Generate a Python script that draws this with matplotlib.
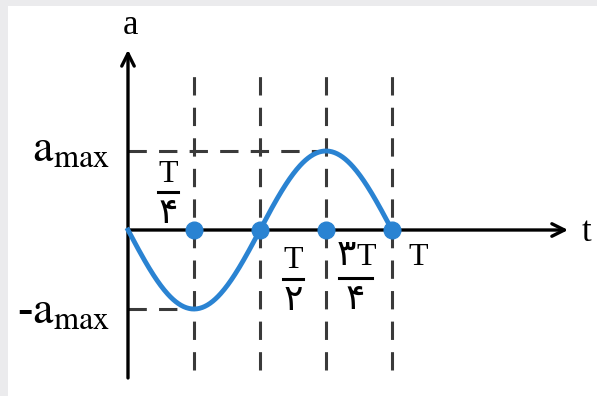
import numpy as np
import matplotlib.pyplot as plt

plt.rcParams['font.family'] = ['Liberation Serif', 'DejaVu Sans']
plt.rcParams['mathtext.fontset'] = 'stix'

# time in units of the period T, acceleration in units of a_max
amax = 1.0
quarter_t = [0.25, 0.5, 0.75, 1.0]
peak_t = [0.25, 0.75]
peak_a = [-amax, amax]
blue = '#2a83d2'
dash = '#3a3a3a'

t = np.linspace(0, 1, 300)
a = -amax * np.sin(2 * np.pi * t)

fig = plt.figure(figsize=(5.97, 3.96), dpi=100, facecolor='#ebebed')
ax = fig.add_axes([8 / 597, 0, 589 / 597, 390 / 396])
ax.set_facecolor('white')
ax.set_xlim(-0.4545, 1.7765)
ax.set_ylim(-2.101, 2.835)
ax.set_xticks([])
ax.set_yticks([])
for s in ax.spines.values():
    s.set_visible(False)

# guide lines
for tq in quarter_t:
    ax.plot([tq, tq], [-1.77, 2.03], color=dash, lw=2.2, dashes=(6, 4), zorder=1)
ax.plot([0, peak_t[1]], [peak_a[1]] * 2, color=dash, lw=2.2, dashes=(6, 4), zorder=1)
ax.plot([0, peak_t[0]], [peak_a[0]] * 2, color=dash, lw=2.2, dashes=(6, 4), zorder=1)

# axes with open arrow heads
arrow = dict(arrowstyle='->, head_length=0.9, head_width=0.45', lw=2.4, color='black',
             shrinkA=0, shrinkB=0)
ax.annotate('', xy=(1.667, 0), xytext=(0, 0), arrowprops=arrow, zorder=2)
ax.annotate('', xy=(0, 2.28), xytext=(0, -1.873), arrowprops=arrow, zorder=2)

ax.plot(t, a, color=blue, lw=3.5, zorder=3)
ax.plot(quarter_t, [0] * len(quarter_t), 'o', color=blue, ms=12, zorder=4)

ax.text(0.008, 2.59, 'a', fontsize=25, ha='center', va='center')
ax.text(1.72, -0.03, 't', fontsize=25, ha='left', va='center')
ax.text(-0.068, 1.01, r'$\mathrm{a_{max}}$', fontsize=33, ha='right', va='center')
ax.text(-0.068, -1.04, r'-$\mathrm{a_{max}}$', fontsize=33, ha='right', va='center')


def frac(x, y_top, y_bar, y_bot, half, bottom):
    ax.plot([x - half, x + half], [y_bar, y_bar], color='black', lw=2.2)
    ax.text(x, y_bot, bottom, fontsize=26, ha='center', va='center')


# T/4, T/2, 3T/4 labels
ax.text(0.152, 0.70, 'T', fontsize=23, ha='center', va='center')
frac(0.152, 0.70, 0.48, 0.19, 0.038, '۴')
ax.text(0.625, -0.38, 'T', fontsize=23, ha='center', va='center')
frac(0.625, -0.38, -0.62, -0.90, 0.038, '۲')
ax.text(0.865, -0.35, 'T', fontsize=23, ha='left', va='center')
ax.text(0.865, -0.33, '۳', fontsize=26, ha='right', va='center')
frac(0.862, -0.35, -0.61, -0.89, 0.063, '۴')
ax.text(1.098, -0.35, 'T', fontsize=23, ha='center', va='center')

fig.savefig('out.png', dpi=100, facecolor=fig.get_facecolor())
